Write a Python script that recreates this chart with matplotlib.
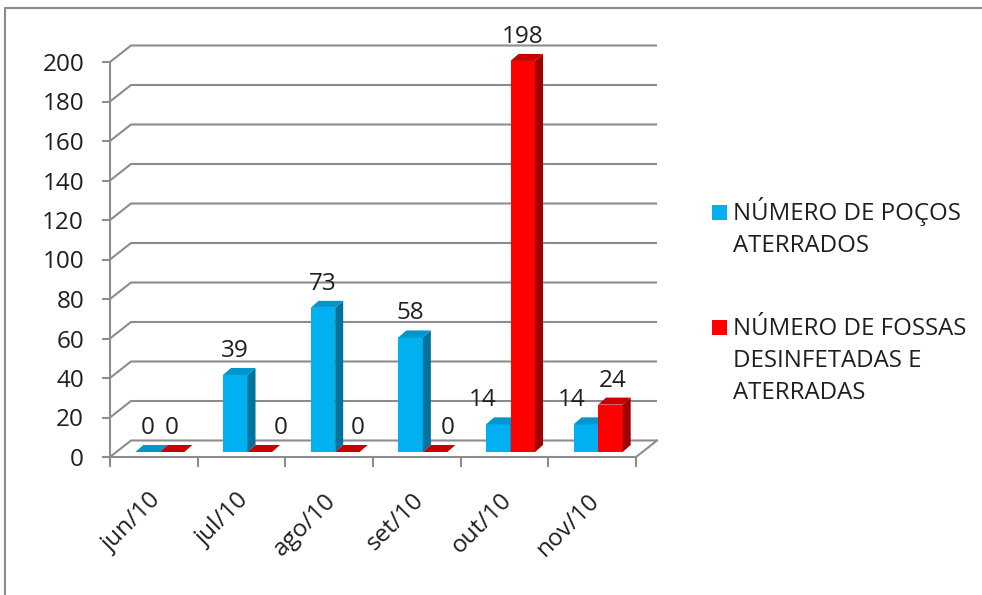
"""Excel-style 3D column chart: poços aterrados vs fossas desinfetadas (jun-nov/10)."""
import matplotlib

matplotlib.use("Agg")
import matplotlib.pyplot as plt  # noqa: E402
from matplotlib.lines import Line2D  # noqa: E402
from matplotlib.patches import Rectangle  # noqa: E402

months = ["jun/10", "jul/10", "ago/10", "set/10", "out/10", "nov/10"]
pocos = [0, 39, 73, 58, 14, 14]
fossas = [0, 0, 0, 0, 198, 24]
series_names = [
    ["NÚMERO DE POÇOS", "ATERRADOS"],
    ["NÚMERO DE FOSSAS", "DESINFETADAS E", "ATERRADAS"],
]
y_max, y_step = 200, 20

# label nudges (pixels) where Excel moved a label away from a neighbour
nudge_pocos = [0, 0, 0, 0, -16, -14]
nudge_fossas = [0, 21, 10, 13, 0, 2]

W_PX, H_PX = 982, 595
PX_CAT = 87.67          # pixels per category
PX_UNIT = 1.975         # pixels per value unit
DX = 21 / PX_CAT        # wall depth (x)
DY = 16.5 / PX_UNIT     # wall depth (y)
BX = 6 / PX_CAT         # bar row shift
BASE = 5 / PX_UNIT      # bar row lift
BW = 24.5 / PX_CAT      # bar width
SD = 8 / PX_CAT         # bar side depth
SH = 7 / PX_UNIT        # bar top depth

GRID = "#8c8c8c"
TXT = "#1f1f1f"
FONT = "Open Sans"
FS = 17.5
COLORS = {
    "blue": ("#00b0f0", "#00729b", "#0096cc"),
    "red": ("#ff0000", "#a00000", "#c80000"),
}

fig = plt.figure(figsize=(W_PX / 100, H_PX / 100), dpi=100)
left_px, right_px, bot_px, top_px = 110, 657, 457, 45
ax = fig.add_axes([left_px / W_PX, 1 - bot_px / H_PX,
                   (right_px - left_px) / W_PX, (bot_px - top_px) / H_PX])
ax.set_xlim(-0.5, -0.5 + (right_px - left_px) / PX_CAT)
ax.set_ylim(0, (bot_px - top_px) / PX_UNIT)
ax.axis("off")

n = len(months)
lw = 1.5
# back wall gridlines + floor
for v in range(0, y_max + 1, y_step):
    ax.plot([-0.5, -0.5 + DX, n - 0.5 + DX], [v, v + DY, v + DY],
            color=GRID, lw=lw, clip_on=False, zorder=1, solid_capstyle="butt")
    ax.plot([-0.5 - 7 / PX_CAT, -0.5], [v, v], color=GRID, lw=lw, clip_on=False, zorder=1)
    ax.annotate(str(v), (-0.5, v), xytext=(-26, 0), textcoords="offset pixels",
                ha="right", va="center_baseline", fontsize=FS, color=TXT, family=FONT)
ax.plot([-0.5, -0.5], [0, y_max], color=GRID, lw=lw, clip_on=False, zorder=1)
ax.plot([-0.5, n - 0.5, n - 0.5 + DX], [0, 0, DY], color=GRID, lw=lw,
        clip_on=False, zorder=1)
for k in range(n + 1):
    ax.plot([k - 0.5, k - 0.5], [0, -9 / PX_UNIT], color=GRID, lw=lw, clip_on=False, zorder=1)

for i, m in enumerate(months):
    ax.text(i + 0.04, -40 / PX_UNIT, m, rotation=45, rotation_mode="anchor",
            ha="right", va="center", fontsize=FS, color=TXT, family=FONT)


def draw_series(vals, offset, colors, nudges, z):
    front, side, top = colors
    xs = [i + BX + offset for i in range(len(vals))]
    ax.bar(xs, vals, width=BW, bottom=BASE, align="edge", color=front, zorder=z,
           clip_on=False)
    for x0, v, nd in zip(xs, vals, nudges):
        x1 = x0 + BW
        t = BASE + v
        ax.fill([x1, x1 + SD, x1 + SD, x1], [BASE, BASE + SH, t + SH, t],
                color=side, zorder=z, clip_on=False, lw=0)
        ax.fill([x0, x1, x1 + SD, x0 + SD], [t, t, t + SH, t + SH],
                color=top, zorder=z, clip_on=False, lw=0)
        ax.annotate(str(v), (x0 + BW / 2, t), xytext=(nd, 18), textcoords="offset pixels",
                    ha="center", va="baseline", fontsize=FS, color=TXT, family=FONT,
                    zorder=6)


draw_series(pocos, -BW, COLORS["blue"], nudge_pocos, 3)
draw_series(fossas, 0.0, COLORS["red"], nudge_fossas, 4)

# legend
legend_rows = [(212, COLORS["blue"][0]), (327, COLORS["red"][0])]
for (yc, col), lines in zip(legend_rows, series_names):
    fig.add_artist(Rectangle((712 / W_PX, 1 - (yc + 7.5) / H_PX), 15 / W_PX, 15 / H_PX,
                             transform=fig.transFigure, color=col, lw=0))
    for j, line in enumerate(lines):
        fig.text(733 / W_PX, 1 - (yc + 8.4 + j * 31.7) / H_PX, line, ha="left",
                 va="baseline", fontsize=17.3, color=TXT, family=FONT)

# chart-area border (cut off at right/bottom)
fig.add_artist(Line2D([5 / W_PX, 5 / W_PX, 1], [0, 1 - 8 / H_PX, 1 - 8 / H_PX],
                      transform=fig.transFigure, color="#8c8c8c", lw=1.5))

fig.savefig("out.png", dpi=100, facecolor="white")
